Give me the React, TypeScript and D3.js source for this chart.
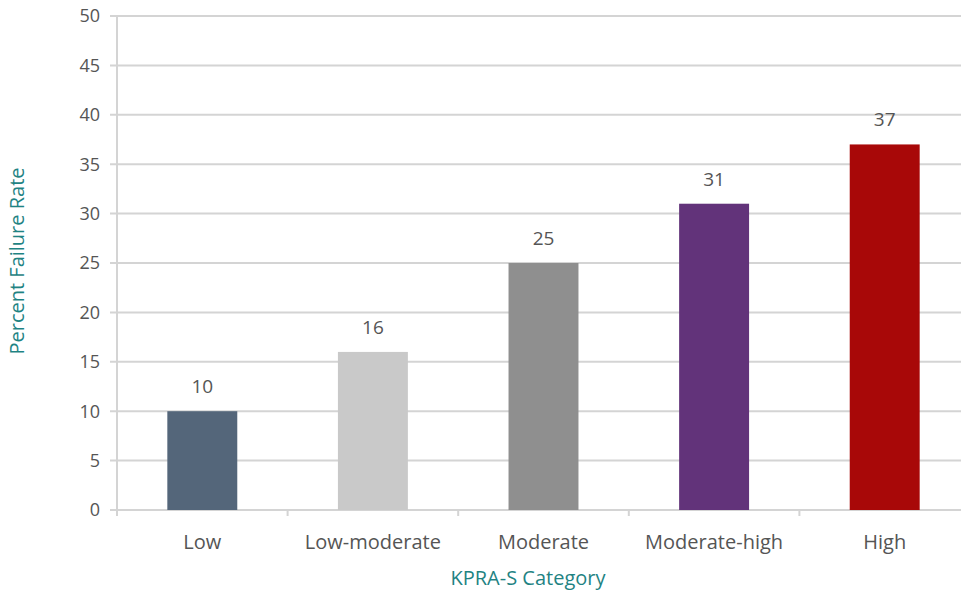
import React from "react";
import * as d3 from "d3";

const categories = ["Low", "Low-moderate", "Moderate", "Moderate-high", "High"];
const values = [10, 16, 25, 31, 37];
const colors = ["#54667a", "#c9c9c9", "#8f8f8f", "#62337a", "#a80808"];
const yTicks = [0, 5, 10, 15, 20, 25, 30, 35, 40, 45, 50];

export default function App() {
  const W = 961, H = 596;
  const left = 117, right = 970, top = 16, bottom = 510;
  const x = d3.scaleBand<string>().domain(categories).range([left, right]).paddingInner(0.59).paddingOuter(0.295);
  const y = d3.scaleLinear().domain([0, 50]).range([bottom, top]);
  const boundaries = categories.map((_, i) => left + i * ((right - left) / categories.length));
  boundaries.push(right);
  const font = "'Open Sans', 'Noto Sans', sans-serif";
  return (
    <svg width={W} height={H} style={{ position: "absolute", left: 0, top: 0, background: "#fff" }}>
      {yTicks.map((t) => (
        <g key={t}>
          <line x1={110} x2={W} y1={y(t)} y2={y(t)} stroke="#d4d4d4" strokeWidth={2} />
          <text x={100} y={y(t)} dy="0.36em" textAnchor="end" fontFamily={font} fontSize={18} fill="#555">{t}</text>
        </g>
      ))}
      <line x1={left} x2={left} y1={top} y2={bottom + 6} stroke="#d4d4d4" strokeWidth={2} />
      {boundaries.map((b, i) => (
        <line key={i} x1={b} x2={b} y1={bottom} y2={bottom + 6} stroke="#d4d4d4" strokeWidth={2} />
      ))}
      {categories.map((c, i) => (
        <g key={c}>
          <rect x={x(c)} y={y(values[i])} width={x.bandwidth()} height={bottom - y(values[i])} fill={colors[i]} />
          <text x={(x(c) as number) + x.bandwidth() / 2} y={y(values[i]) - 18} textAnchor="middle" fontFamily={font} fontSize={19} fill="#555">{values[i]}</text>
          <text x={(x(c) as number) + x.bandwidth() / 2} y={549} textAnchor="middle" fontFamily={font} fontSize={20} fill="#555">{c}</text>
        </g>
      ))}
      <text x={528} y={585} textAnchor="middle" fontFamily={font} fontSize={20} fill="#1f8383">KPRA-S Category</text>
      <text transform={`translate(24,261) rotate(-90)`} textAnchor="middle" fontFamily={font} fontSize={20} fill="#1f8383">Percent Failure Rate</text>
    </svg>
  );
}
